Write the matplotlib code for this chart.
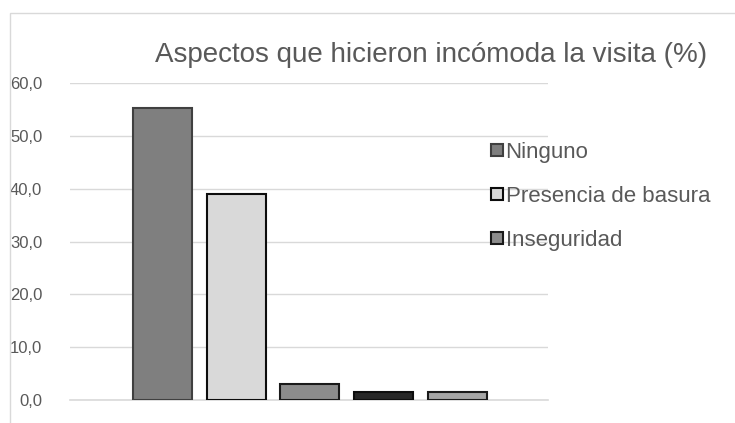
import matplotlib.pyplot as plt
from matplotlib.patches import Rectangle

plt.rcParams["font.family"] = ["Liberation Sans", "DejaVu Sans"]

# datos
labels = ["Ninguno", "Presencia de basura", "Inseguridad", "_s4", "_s5"]
values = [55.3, 38.9, 3.0, 1.5, 1.5]
colors = ["#7f7f7f", "#d9d9d9", "#8c8c8c", "#262626", "#a6a6a6"]
edges = ["#404040", "#0d0d0d", "#1a1a1a", "#0d0d0d", "#1a1a1a"]
yticks = [0, 10, 20, 30, 40, 50, 60]

fig = plt.figure(figsize=(7.35, 4.23), dpi=100)
# marco del grafico
fig.patches.append(Rectangle((10 / 735, -0.1), 1.0, (423 - 13) / 423 + 0.1,
                             transform=fig.transFigure, fill=False,
                             edgecolor="#d9d9d9", linewidth=1))

ax = fig.add_axes([70 / 735, (423 - 400) / 423, 478 / 735, 317 / 423])
x = range(len(values))
for i in x:
    ax.bar(i, values[i], width=0.8, color=colors[i], edgecolor=edges[i],
           linewidth=1.5, label=labels[i], zorder=3)

ax.set_xlim(-1.254, 5.227)
ax.set_ylim(0, 60)
ax.set_yticks(yticks)
ax.set_yticklabels([f"{t:.1f}".replace(".", ",") for t in yticks],
                   fontsize=12, color="#595959")
ax.set_xticks([])
ax.tick_params(axis="y", length=0, pad=20)
ax.grid(axis="y", color="#d9d9d9", linewidth=1, zorder=0)
for s in ["top", "right", "left"]:
    ax.spines[s].set_visible(False)
ax.spines["bottom"].set_color("#d9d9d9")
ax.spines["bottom"].set_linewidth(1.2)

fig.text(431 / 735, 1 - 62 / 423, "Aspectos que hicieron incómoda la visita (%)",
         ha="center", va="baseline", fontsize=20, color="#595959")

handles, lbls = ax.get_legend_handles_labels()
fig.legend(handles[:3], lbls[:3], loc="upper left",
           bbox_to_anchor=(480 / 735, 1 - 131 / 423), frameon=False,
           fontsize=16, handlelength=0.55, handleheight=0.45,
           handletextpad=0.1, labelspacing=1.03, labelcolor="#595959",
           borderpad=0)

fig.savefig("out.png", dpi=100)
